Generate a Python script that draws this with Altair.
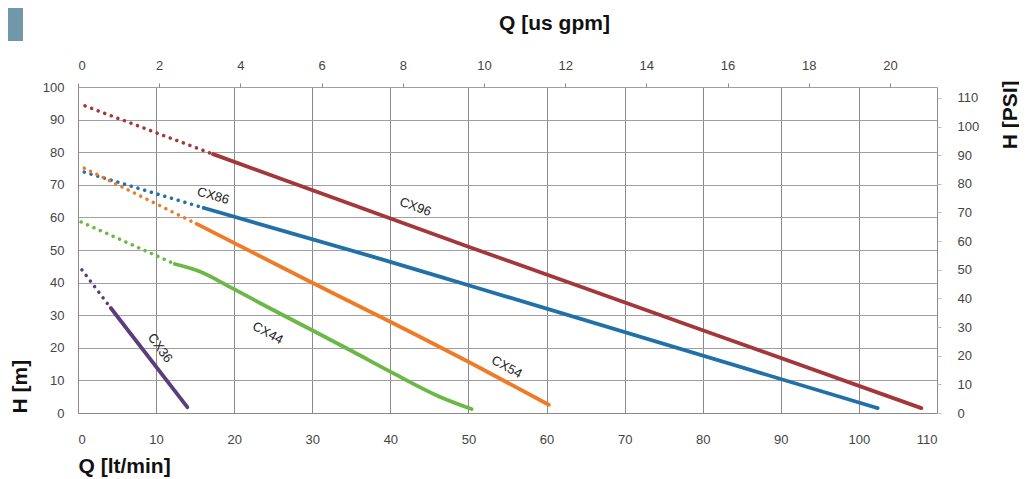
import altair as alt
import pandas as pd

# ---- data (Q in lt/min, H in m) ----
curves = ["CX96", "CX86", "CX54", "CX44", "CX36"]
colors = ["#a3373a", "#2270a8", "#f07b26", "#6bb846", "#5c3d7c"]

cx96_dot_q = [0.9, 17.3]
cx96_dot_h = [94.2, 79.4]
cx96_q = [17.3, 50.0, 80.0, 108.0]
cx96_h = [79.4, 51.0, 25.4, 1.5]

cx86_dot_q = [0.8, 16.1]
cx86_dot_h = [73.9, 62.9]
cx86_q = [16.1, 38.7, 50.0, 102.4]
cx86_h = [62.9, 47.3, 39.2, 1.5]

cx54_dot_q = [0.8, 15.2]
cx54_dot_h = [75.1, 58.0]
cx54_q = [15.2, 29.3, 40.3, 51.5, 60.3]
cx54_h = [58.0, 40.8, 27.6, 13.8, 2.5]

cx44_dot_q = [0.4, 12.4]
cx44_dot_h = [58.6, 45.7]
cx44_q = [12.4, 15.6, 19.5, 24.2, 30.3, 35.3, 40.3, 46.3, 50.4]
cx44_h = [45.7, 43.4, 38.6, 32.6, 25.0, 18.7, 12.3, 5.0, 1.2]

cx36_dot_q = [0.5, 4.2]
cx36_dot_h = [43.9, 32.2]
cx36_q = [4.2, 14.0]
cx36_h = [32.2, 1.8]

label_q = [43.2, 17.3, 54.9, 24.3, 10.5]
label_h = [63.2, 66.6, 14.1, 24.5, 19.9]
label_angle = [20, 16, 29, 29, 54]

q_ticks = list(range(0, 111, 10))
h_ticks = list(range(0, 101, 10))
gpm_ticks = list(range(0, 21, 2))
psi_ticks = list(range(0, 111, 10))

# ---- tables ----
series = {
    "CX96": (cx96_dot_q, cx96_dot_h, cx96_q, cx96_h),
    "CX86": (cx86_dot_q, cx86_dot_h, cx86_q, cx86_h),
    "CX54": (cx54_dot_q, cx54_dot_h, cx54_q, cx54_h),
    "CX44": (cx44_dot_q, cx44_dot_h, cx44_q, cx44_h),
    "CX36": (cx36_dot_q, cx36_dot_h, cx36_q, cx36_h),
}
rows = []
for name, (dq, dh, sq, sh) in series.items():
    for q, h in zip(dq, dh):
        rows.append({"curve": name, "seg": "dot", "q": q, "h": h})
    for q, h in zip(sq, sh):
        rows.append({"curve": name, "seg": "solid", "q": q, "h": h})
df = pd.DataFrame(rows)
lab = pd.DataFrame({"curve": curves, "q": label_q, "h": label_h, "ang": label_angle})
sec = pd.DataFrame({"gpm": [0, 20], "psi": [0, 110]})

FONT = "Liberation Sans"
color = alt.Color("curve:N", scale=alt.Scale(domain=curves, range=colors), legend=None)

x_axis = alt.Axis(
    orient="bottom", values=q_ticks, grid=True, gridColor="#8a8a8a", gridWidth=1,
    ticks=False, domain=True, domainColor="#8a8a8a", labelPadding=20,
    labelOverlap=False,
    title="Q [lt/min]", titleX=0, titleY=59, titleAlign="left",
    titleBaseline="alphabetic",
)
y_axis = alt.Axis(
    orient="left", values=h_ticks, tickCount=11, grid=True, gridColor="#a0a0a0",
    gridWidth=1, ticks=False, domain=True, domainColor="#8a8a8a", labelPadding=14,
    labelOverlap=False,
    title="H [m]", titleX=-58, titleY=326, titleAngle=270, titleAlign="left",
    titleBaseline="middle",
)
x_scale = alt.Scale(domain=[0, 110], nice=False, zero=True)
y_scale = alt.Scale(domain=[0, 100], nice=False, zero=True)


def xm():
    return alt.X("q:Q", scale=x_scale, axis=x_axis)


def ym():
    return alt.Y("h:Q", scale=y_scale, axis=y_axis)


base = alt.Chart(df)
solid = base.transform_filter(alt.datum.seg == "solid").mark_line(
    strokeWidth=3.8, strokeCap="round", interpolate="monotone"
).encode(x=xm(), y=ym(), color=color, detail="curve:N")
dots = base.transform_filter(alt.datum.seg == "dot").mark_line(
    strokeWidth=3.5, strokeCap="round", strokeDash=[0.1, 6.9]
).encode(x=xm(), y=ym(), color=color, detail="curve:N")
labels = alt.Chart(lab).mark_text(
    font=FONT, fontSize=13, color="#222", align="center", baseline="middle"
).encode(x=xm(), y=ym(), text="curve:N", angle=alt.Angle("ang:Q", scale=None))

corner = alt.Chart(pd.DataFrame({"a": [0]})).mark_rect(color="#7397aa").encode(
    x=alt.value(-70), x2=alt.value(-55), y=alt.value(-79), y2=alt.value(-46)
)

main = alt.layer(solid, dots, labels, corner)

secondary = alt.Chart(sec).mark_point(opacity=0).encode(
    x=alt.X(
        "gpm:Q",
        scale=alt.Scale(domain=[0, 21.16], nice=False, zero=True),
        axis=alt.Axis(
            orient="top", values=gpm_ticks, grid=False, domain=False,
            ticks=True, tickSize=4, tickColor="#8a8a8a", labelPadding=11,
            labelOverlap=False,
            title="Q [us gpm]", titleX=476, titleY=-58, titleAlign="center",
            titleBaseline="alphabetic",
        ),
    ),
    y=alt.Y(
        "psi:Q",
        scale=alt.Scale(domain=[0, 113.8], nice=False, zero=True),
        axis=alt.Axis(
            orient="right", values=psi_ticks, grid=False, domain=False,
            ticks=True, tickSize=4, tickColor="#bbbbbb", labelPadding=16,
            labelAlign="left", labelOverlap=False,
            title="H [PSI]", titleX=73, titleY=-7, titleAngle=270, titleAlign="right",
            titleBaseline="middle",
        ),
    ),
)

chart = alt.layer(main, secondary).resolve_scale(
    x="independent", y="independent"
).properties(
    width=859, height=326,
    autosize=alt.AutoSizeParams(type="none"),
    padding={"left": 70, "top": 79, "right": 82, "bottom": 66},
    background="white",
).configure_view(stroke=None).configure_axis(
    labelFont=FONT, labelFontSize=13, labelColor="#444",
    titleFont=FONT, titleFontSize=21, titleFontWeight="bold", titleColor="#111",
)

chart.save("out.html", embed_options={"renderer": "svg", "actions": False})
